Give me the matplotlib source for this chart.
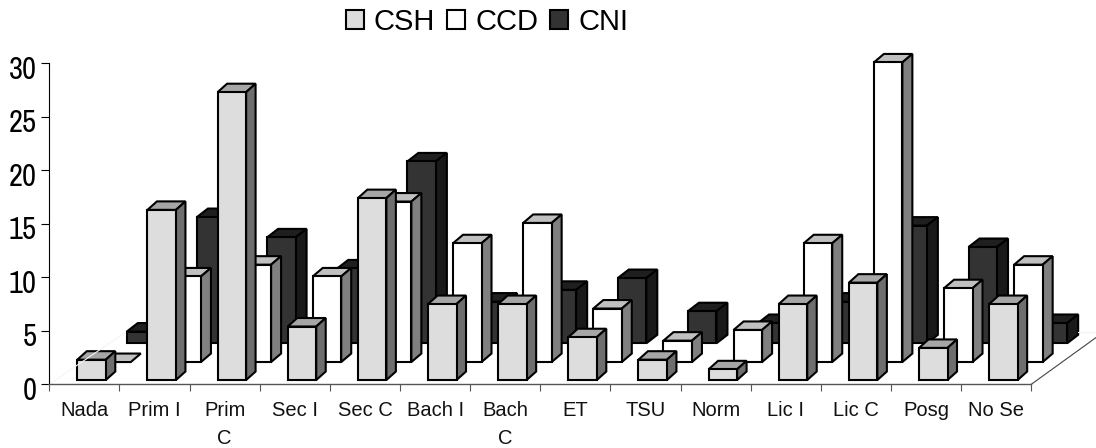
import matplotlib
matplotlib.use('Agg')
import matplotlib.pyplot as plt
from matplotlib.patches import Polygon, Patch
from matplotlib.transforms import ScaledTranslation

categories = ['Nada', 'Prim I', 'Prim\nC', 'Sec I', 'Sec C', 'Bach I', 'Bach\nC',
              'ET', 'TSU', 'Norm', 'Lic I', 'Lic C', 'Posg', 'No Se']
csh = [1.9, 15.9, 26.9, 5.0, 17.0, 7.1, 7.1, 4.0, 1.9, 1.0, 7.1, 9.1, 3.0, 7.1]
ccd = [0.0, 8.0, 9.1, 8.0, 15.0, 11.1, 13.0, 5.0, 2.0, 3.0, 11.1, 28.0, 6.9, 9.1]
cni = [1.1, 11.8, 9.9, 7.0, 17.0, 3.9, 5.0, 6.1, 3.0, 1.9, 3.9, 11.0, 9.0, 1.9]
yticks = [0, 5, 10, 15, 20, 25, 30]

W, H = 1096, 448
# plot box in pixels
left, right, bottom, top = 49.3, 1031.3, 384.3, 63.3
px_x = len(categories) / (right - left)
px_y = 30 / (bottom - top)

plt.rcParams['font.family'] = ['Liberation Sans']

fig = plt.figure(figsize=(W / 100, H / 100), dpi=100)
ax = fig.add_axes([left / W, 1 - bottom / H, (right - left) / W, (bottom - top) / H])
ax.set_xlim(0, len(categories))
ax.set_ylim(0, 30)


def bar3d(x, base, value, depth, front, face_top, side):
	w = 28.5 * px_x
	dx = depth * px_x
	dy = 8.5 * px_y
	y = base + value
	ax.add_patch(Polygon([(x, y), (x + dx, y + dy), (x + w + dx, y + dy), (x + w, y)],
		facecolor=face_top, edgecolor='black', lw=1.5, clip_on=False))
	if value > 0:
		ax.add_patch(Polygon([(x + w, base), (x + w + dx, base + dy), (x + w + dx, y + dy), (x + w, y)],
			facecolor=side, edgecolor='black', lw=1.5, clip_on=False))
		ax.bar(x, value, w, bottom=base, align='edge', color=front, edgecolor='black', lw=1.5, clip_on=False)


# floor edges, drawn first so the bars sit over them
ax.plot([len(categories), len(categories) + 72 * px_x], [0, 52 * px_y], color='#444444', lw=0.8, clip_on=False)
ax.plot([0, 76 * px_x], [0, 52 * px_y], color='#f4f4f4', lw=0.8, clip_on=False)
ax.plot([len(categories) + 47 * px_x, len(categories) + 72 * px_x], [52 * px_y, 52 * px_y],
	color='#f4f4f4', lw=0.8, clip_on=False)

series = [
	(cni, 49.5, 3.83, 11.0, '#333333', '#1f1f1f', '#191919'),
	(ccd, 25.0, 2.08, 10.0, '#ffffff', '#c0c0c0', '#808080'),
	(csh, 0.0, 0.40, 9.5, '#dddddd', '#a6a6a6', '#6e6e6e'),
]
for values, shift, base, depth, front, face_top, side in series:
	for i, v in enumerate(values):
		bar3d(i + (28 + shift) * px_x, base, v, depth, front, face_top, side)

for s in ['top', 'right']:
	ax.spines[s].set_visible(False)
ax.spines['left'].set_linewidth(0.8)
ax.spines['bottom'].set_linewidth(1.0)
ax.spines['bottom'].set_color('#555555')

ax.set_yticks(yticks)
ax.tick_params(axis='y', length=6, width=0.8, pad=3, labelsize=22)
offset = ScaledTranslation(0, -4 / 100, fig.dpi_scale_trans)
for lab in ax.get_yticklabels():
	lab.set_transform(lab.get_transform() + offset)
	lab.set_family(['Archivo Narrow', 'Liberation Sans'])

ax.set_xticks(range(len(categories) + 1))
ax.set_xticklabels([])
ax.set_xticks([i + 0.5 for i in range(len(categories))], minor=True)
ax.set_xticklabels(categories, minor=True, fontsize=14.5, linespacing=1.6, color='#111111')
ax.tick_params(axis='x', which='major', length=5, width=0.8, color='#555555')
ax.tick_params(axis='x', which='minor', length=0, pad=12)

handles = [Patch(facecolor='#dddddd', edgecolor='black', lw=1.5),
	Patch(facecolor='#ffffff', edgecolor='black', lw=1.5),
	Patch(facecolor='#333333', edgecolor='black', lw=1.5)]
fig.legend(handles, ['CSH', 'CCD', 'CNI'], ncol=3, frameon=False, fontsize=21,
	handlelength=0.6, handleheight=0.6, handletextpad=0.35, columnspacing=0.42,
	loc='center', bbox_to_anchor=(487 / W, 1 - 22 / H), borderpad=0, borderaxespad=0)

fig.savefig('out.png', dpi=100)
